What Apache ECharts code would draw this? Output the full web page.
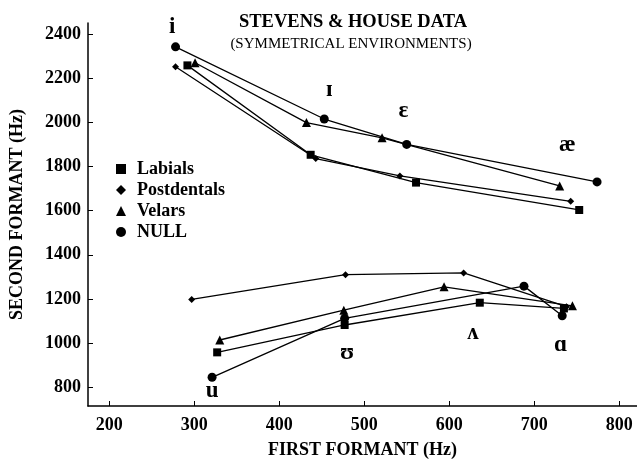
<!DOCTYPE html>
<html>
<head>
<meta charset="utf-8">
<script src="https://cdn.jsdelivr.net/npm/echarts@6/dist/echarts.min.js"></script>
<style>html,body{margin:0;padding:0;background:#fff}#c{width:637px;height:464px}</style>
</head>
<body>
<div id="c"></div>
<script>
// vowel order: i, ɪ, ɛ, æ | u, ʊ, ʌ, ɑ
const vowels = ['i', 'ɪ', 'ɛ', 'æ', 'u', 'ʊ', 'ʌ', 'ɑ'];
const vowelLabelF1 = [274, 459, 546, 739, 321, 480, 628, 731];
const vowelLabelF2 = [2431, 2147, 2049, 1895, 783, 954, 1044, 990];

const seriesNames = ['Labials', 'Postdentals', 'Velars', 'NULL'];
const labialsF1 = [292, 437, 561, 753, 327, 477, 636, 735];
const labialsF2 = [2258, 1853, 1727, 1603, 958, 1082, 1183, 1157];
const postdentalsF1 = [278, 443, 542, 743, 297, 478, 617, 738];
const postdentalsF2 = [2252, 1836, 1757, 1642, 1198, 1310, 1318, 1165];
const velarsF1 = [301, 432, 521, 730, 330, 476, 594, 745];
const velarsF2 = [2270, 1999, 1930, 1712, 1014, 1149, 1255, 1169];
const nullF1 = [278, 453, 550, 774, 321, 477, 688, 733];
const nullF2 = [2342, 2015, 1900, 1730, 845, 1112, 1258, 1124];

const xTicks = [200, 300, 400, 500, 600, 700, 800];
const yTicks = [800, 1000, 1200, 1400, 1600, 1800, 2000, 2200, 2400];

const symbols = ['rect', 'diamond', 'triangle', 'circle'];
const symbolSizes = [8, 7, 9, 9];
const allF1 = [labialsF1, postdentalsF1, velarsF1, nullF1];
const allF2 = [labialsF2, postdentalsF2, velarsF2, nullF2];

const FONT = '"Liberation Serif", "DejaVu Serif", serif';
const series = [];
seriesNames.forEach((name, k) => {
  const pts = allF1[k].map((x, i) => [x, allF2[k][i]]);
  [pts.slice(0, 4), pts.slice(4)].forEach(part => {
    series.push({
      name: name, type: 'line', data: part,
      symbol: symbols[k], symbolSize: symbolSizes[k],
      showAllSymbol: true,
      lineStyle: { color: '#000', width: 1.3 },
      itemStyle: { color: '#000' },
      emphasis: { disabled: true },
      animation: false, z: 3
    });
  });
});
series.push({
  type: 'scatter', data: vowels.map((v, i) => [vowelLabelF1[i], vowelLabelF2[i], v]),
  symbolSize: 1, silent: true, animation: false,
  itemStyle: { opacity: 0 },
  label: { show: true, position: 'inside', formatter: p => p.data[2], opacity: 1,
    color: '#000', fontFamily: FONT, fontSize: 23, fontWeight: 'bold' }
});

const chart = echarts.init(document.getElementById('c'), null, { renderer: 'canvas' });
chart.setOption({
  backgroundColor: '#fff',
  animation: false,
  title: [
    { text: 'STEVENS & HOUSE DATA', left: 348, top: 8, textAlign: 'center',
      textStyle: { fontFamily: FONT, fontSize: 18.5, fontWeight: 'bold', color: '#000' } },
    { text: '(SYMMETRICAL ENVIRONMENTS)', left: 346, top: 32, textAlign: 'center',
      textStyle: { fontFamily: FONT, fontSize: 15, fontWeight: 'normal', color: '#000' } }
  ],
  legend: {
    orient: 'vertical', left: 111, top: 155, itemGap: 3,
    itemWidth: 10, itemHeight: 10,
    data: seriesNames.map((n, k) => ({ name: n, icon: symbols[k] })),
    itemStyle: { color: '#000' },
    textStyle: { fontFamily: FONT, fontSize: 18, fontWeight: 'bold', color: '#000', padding: [0, 0, 0, 6] },
    selectedMode: false
  },
  grid: { left: 84, top: 23, width: 553, height: 385, containLabel: false },
  xAxis: {
    type: 'value', min: 175, max: 821,
    name: 'FIRST FORMANT (Hz)', nameLocation: 'middle', nameGap: 35,
    nameTextStyle: { fontFamily: FONT, fontSize: 18, fontWeight: 'bold', color: '#000' },
    axisLine: { onZero: false, lineStyle: { color: '#000', width: 1.5 } },
    axisTick: { show: true, inside: true, length: 5, customValues: xTicks, lineStyle: { color: '#000' } },
    axisLabel: { customValues: xTicks, margin: 10, formatter: v => String(v),
      fontFamily: FONT, fontSize: 18, fontWeight: 'bold', color: '#000' },
    splitLine: { show: false }
  },
  yAxis: {
    type: 'value', min: 715, max: 2450,
    name: 'SECOND FORMANT (Hz)', nameLocation: 'middle', nameGap: 62,
    nameTextStyle: { fontFamily: FONT, fontSize: 18, fontWeight: 'bold', color: '#000' },
    axisLine: { show: true, onZero: false, lineStyle: { color: '#000', width: 1.5 } },
    axisTick: { show: true, inside: true, length: 5, customValues: yTicks, lineStyle: { color: '#000' } },
    axisLabel: { customValues: yTicks, margin: 7, formatter: v => String(v),
      fontFamily: FONT, fontSize: 18, fontWeight: 'bold', color: '#000' },
    splitLine: { show: false }
  },
  series: series
});
</script>
</body>
</html>
